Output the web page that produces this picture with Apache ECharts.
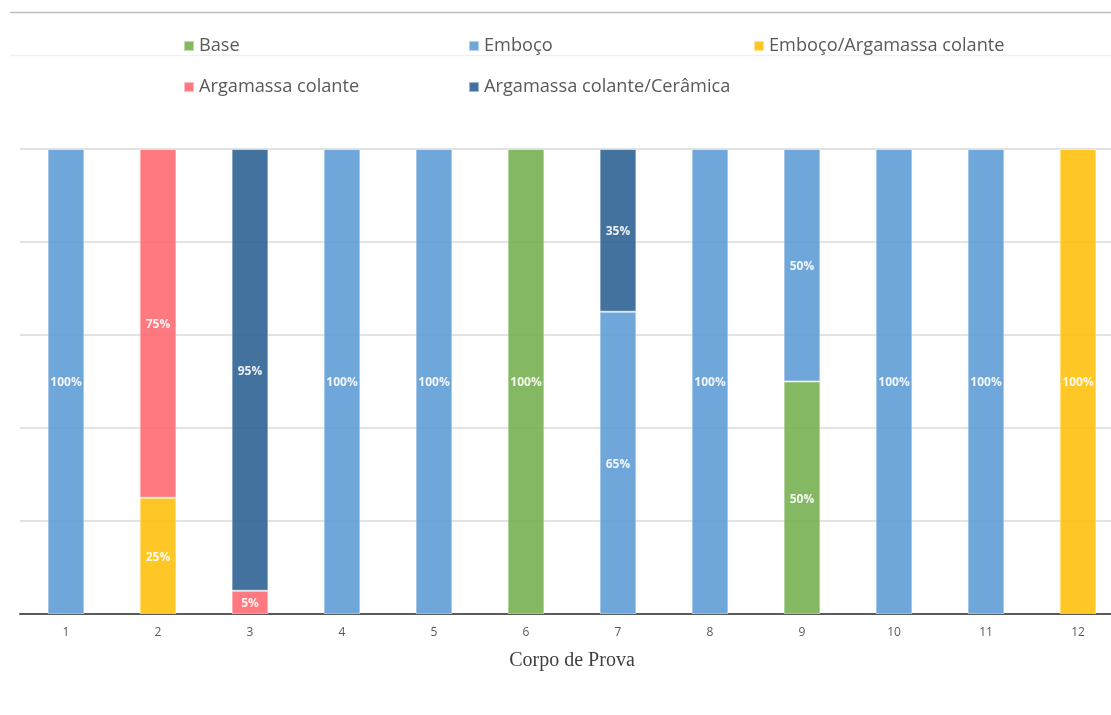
<!DOCTYPE html>
<html>
<head>
<meta charset="utf-8">
<script src="https://cdn.jsdelivr.net/npm/echarts@6/dist/echarts.min.js"></script>
<style>
html,body{margin:0;padding:0;background:#fff;}
#chart{width:1111px;height:715px;}
</style>
</head>
<body>
<div id="chart"></div>
<script>
const categories = ['1','2','3','4','5','6','7','8','9','10','11','12'];
const seriesNames = ['Base','Emboço','Emboço/Argamassa colante','Argamassa colante','Argamassa colante/Cerâmica'];
const base            = [null,null,null,null,null,100,null,null,50,null,null,null];
const emboco          = [100,null,null,100,100,null,65,100,50,100,100,null];
const embocoArgamassa = [null,25,null,null,null,null,null,null,null,null,null,100];
const argamassa       = [null,75,5,null,null,null,null,null,null,null,null,null];
const argamassaCeram  = [null,null,95,null,null,null,35,null,null,null,null,null];
const yTicks = [0,20,40,60,80,100];

const seriesData = [base, emboco, embocoArgamassa, argamassa, argamassaCeram];
const colors = ['#77B051','#609DD6','#FFC10E','#FF6C72','#2F6394'];
const legendPos = [[183,37],[468,37],[753,37],[183,78],[468,78]];

const chart = echarts.init(document.getElementById('chart'), null, {renderer:'canvas'});
chart.setOption({
  animation:false,
  backgroundColor:'#fff',
  color: colors,
  textStyle:{fontFamily:'Open Sans'},
  graphic:[
    {type:'line', shape:{x1:10,y1:12.5,x2:1111,y2:12.5}, style:{stroke:'#bfbfbf',lineWidth:1.5}, z:-1},
    {type:'line', shape:{x1:10,y1:55.5,x2:1111,y2:55.5}, style:{stroke:'#f0f0f0',lineWidth:1.5}, z:-1}
  ],
  legend: seriesNames.map((n,i)=>({
    data:[n], left:legendPos[i][0], top:legendPos[i][1], padding:0,
    itemWidth:10, itemHeight:10, icon:'rect',
    textStyle:{fontSize:18.2, color:'#595959', fontFamily:'Open Sans'}
  })),
  grid:{left:20, top:149, right:-13, bottom:101, outerBoundsMode:'none', containLabel:false},
  xAxis:{
    type:'category', data:categories,
    axisLine:{lineStyle:{color:'#595959', width:2}},
    axisTick:{show:false},
    axisLabel:{color:'#595959', fontSize:12, margin:13},
    name:'Corpo de Prova', nameLocation:'middle', nameGap:37,
    nameTextStyle:{fontFamily:'Liberation Serif', fontSize:20, color:'#404040'}
  },
  yAxis:{
    type:'value', min:yTicks[0], max:yTicks[yTicks.length-1], interval:yTicks[1]-yTicks[0],
    axisLabel:{show:false}, axisLine:{show:false}, axisTick:{show:false},
    splitLine:{lineStyle:{color:'#d9d9d9', width:1.5}}
  },
  series: seriesNames.map((n,i)=>({
    name:n, type:'bar', stack:'total', data:seriesData[i], barWidth:'40%',
    itemStyle:{opacity:0.9, borderColor:'rgba(255,255,255,0.55)', borderWidth:1},
    label:{show:true, position:'inside', offset:[0,1.5], formatter:'{c}%', color:'#fff', fontWeight:'bold', fontSize:12, fontFamily:'Open Sans'}
  }))
});
</script>
</body>
</html>
